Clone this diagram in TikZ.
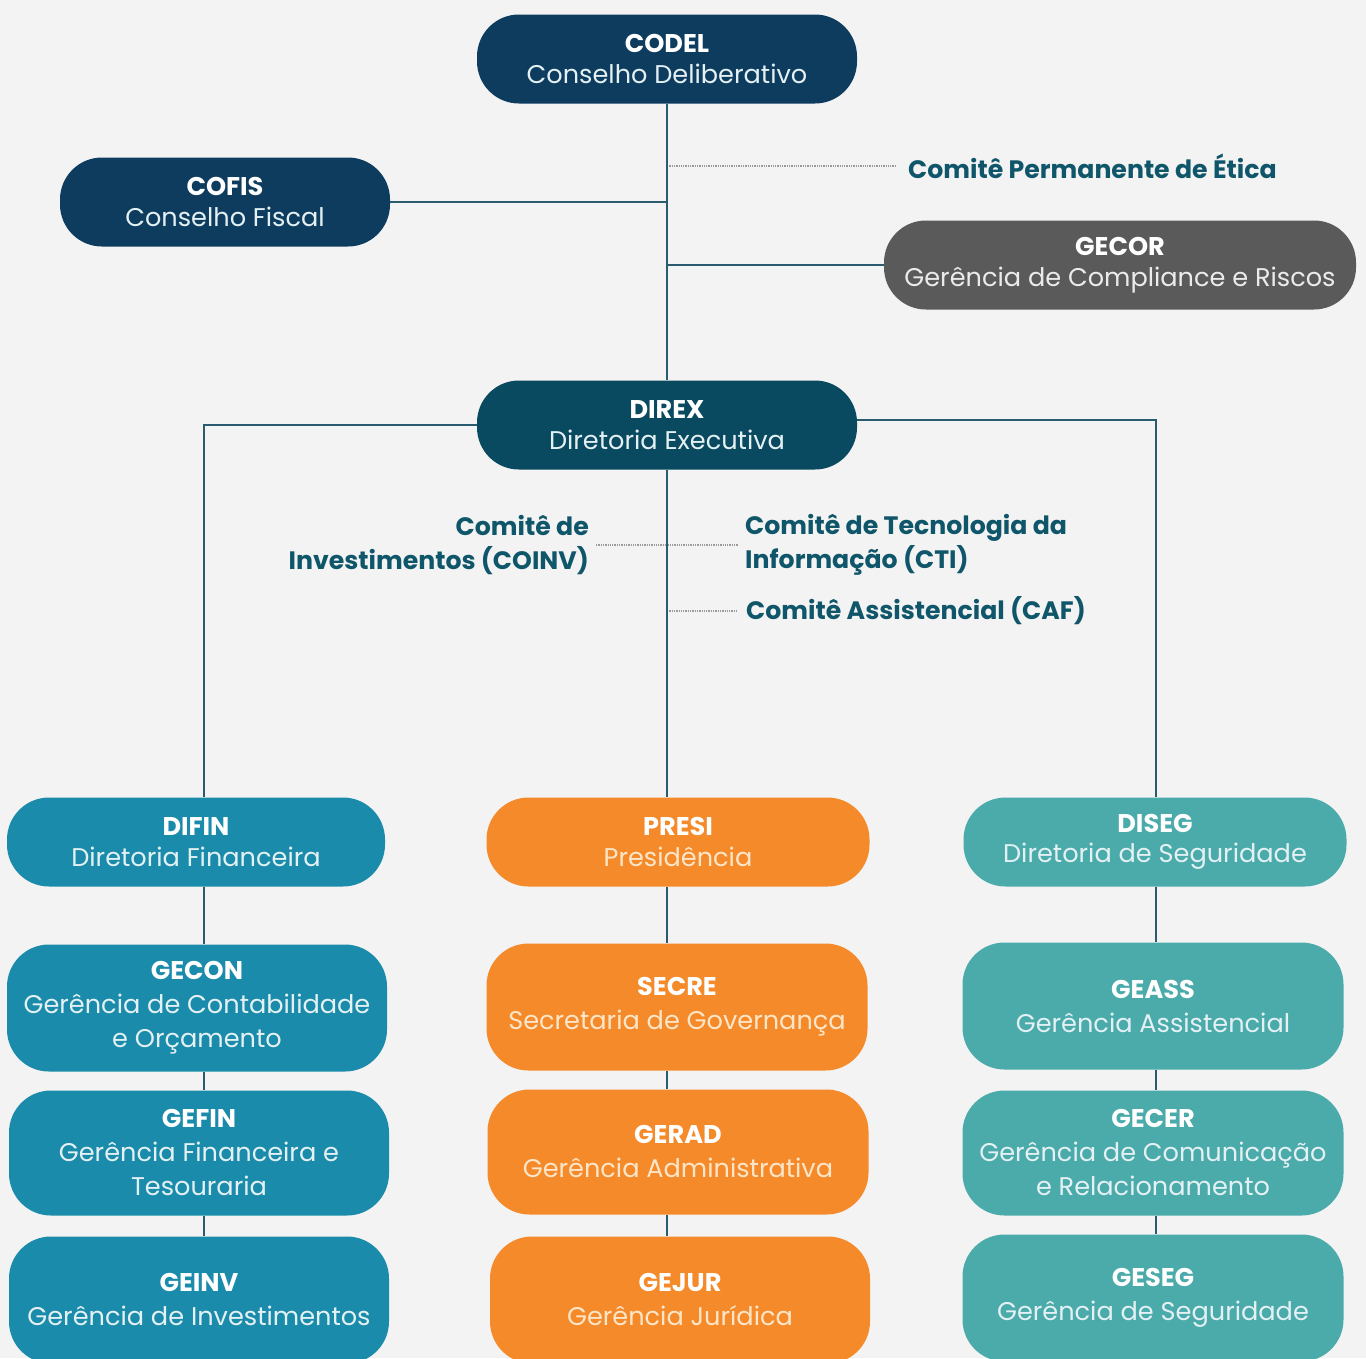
\documentclass[tikz,border=0pt]{standalone}
\usepackage{fontspec}
\setmainfont{Poppins}
\definecolor{bgc}{HTML}{F3F3F3}
\definecolor{navyc}{HTML}{0E3C5E}
\definecolor{direxc}{HTML}{0A4A60}
\definecolor{grayc}{HTML}{5A5A5A}
\definecolor{finc}{HTML}{1A8BAA}
\definecolor{orngc}{HTML}{F58A2B}
\definecolor{segc}{HTML}{4BABAA}
\definecolor{linec}{HTML}{2B5B6E}
\definecolor{comc}{HTML}{10566A}
\definecolor{dotc}{HTML}{9A9A9A}
\definecolor{subw}{HTML}{E4F1F4}
\definecolor{subo}{HTML}{FDE6C8}
\begin{document}
\begin{tikzpicture}[x=1pt,y=-1pt,
  org/.style={rounded corners=42pt, inner sep=0pt, align=center, text=white},
  short/.style={org, minimum height=89pt, font=\fontsize{25.6}{30.5}\selectfont},
  tall/.style={org, minimum height=127pt, font=\fontsize{25.6}{34}\selectfont},
  link/.style={draw=linec, line width=2pt},
  dotl/.style={draw=dotc, line width=1.3pt, densely dotted},
  comm/.style={text=comc, font=\fontsize{25.2}{34}\selectfont\bfseries, inner ysep=0pt}
]
\clip (0,0) rectangle (1366,1358);
\fill[bgc] (0,0) rectangle (1366,1358);
\useasboundingbox (0,0) rectangle (1366,1358);

% column guide coordinates
\coordinate (colL) at (204,0);
\coordinate (colM) at (667,0);
\coordinate (colR) at (1156,0);

% nodes
\node[short, fill=navyc, minimum width=380pt] (codel) at (667,59) {\textbf{CODEL}\\{\color{subw}Conselho Deliberativo}};
\node[short, fill=navyc, minimum width=330pt] (cofis) at (225,202) {\textbf{COFIS}\\{\color{subw}Conselho Fiscal}};
\node[short, fill=grayc, minimum width=472pt] (gecor) at (1120,265) {\textbf{GECOR}\\{\color{white!92!black}Gerência de Compliance e Riscos}};
\node[short, fill=direxc, minimum width=380pt] (direx) at (667,425) {\textbf{DIREX}\\{\color{subw}Diretoria Executiva}};

\node[short, fill=finc, minimum width=378pt] (difin) at (196,842) {\textbf{DIFIN}\\{\color{subw}Diretoria Financeira}};
\node[short, fill=orngc, minimum width=383pt] (presi) at (678,842) {\textbf{PRESI}\\{\color{subo}Presidência}};
\node[short, fill=segc, minimum width=383pt] (diseg) at (1155,842) {\textbf{DISEG}\\{\color{subw}Diretoria de Seguridade}};

\node[tall, fill=finc, minimum width=380pt] (gecon) at (197,1008) {\textbf{GECON}\\{\color{subw}Gerência de Contabilidade}\\{\color{subw}e Orçamento}};
\node[tall, fill=finc, minimum width=380pt, minimum height=125pt] (gefin) at (199,1153) {\textbf{GEFIN}\\{\color{subw}Gerência Financeira e}\\{\color{subw}Tesouraria}};
\node[tall, fill=finc, minimum width=380pt] (geinv) at (199,1300) {\textbf{GEINV}\\{\color{subw}Gerência de Investimentos}};

\node[tall, fill=orngc, minimum width=381pt] (secre) at (677,1007) {\textbf{SECRE}\\{\color{subo}Secretaria de Governança}};
\node[tall, fill=orngc, minimum width=381pt, minimum height=125pt] (gerad) at (678,1152) {\textbf{GERAD}\\{\color{subo}Gerência Administrativa}};
\node[tall, fill=orngc, minimum width=380pt] (gejur) at (680,1300) {\textbf{GEJUR}\\{\color{subo}Gerência Jurídica}};

\node[tall, fill=segc, minimum width=381pt] (geass) at (1153,1006) {\textbf{GEASS}\\{\color{subw}Gerência Assistencial}};
\node[tall, fill=segc, minimum width=381pt, minimum height=125pt] (gecer) at (1153,1153) {\textbf{GECER}\\{\color{subw}Gerência de Comunicação}\\{\color{subw}e Relacionamento}};
\node[tall, fill=segc, minimum width=381pt] (geseg) at (1153,1298) {\textbf{GESEG}\\{\color{subw}Gerência de Seguridade}};

% committees
\node[comm, anchor=west, inner xsep=13pt] (etica) at (895,166) {Comitê Permanente de Ética};
\node[comm, anchor=east, align=right, inner xsep=7pt] (coinv) at (596,545) {Comitê de\\Investimentos (COINV)};
\node[comm, anchor=west, align=left, inner xsep=7pt] (cti) at (738,545) {Comitê de Tecnologia da\\Informação (CTI)};
\node[comm, anchor=west, inner xsep=8pt] (caf) at (738,611) {Comitê Assistencial (CAF)};

% dotted committee links
\draw[dotl] (etica.west -| colM) -- (etica.west);
\draw[dotl] (coinv.east) -- (cti.west);
\draw[dotl] (caf.west -| colM) -- (caf.west);

% solid connectors
\draw[link] (codel.south) -- (direx.north);
\draw[link] (cofis.east) -- (cofis.east -| colM);
\draw[link] (gecor.west) -- (gecor.west -| colM);
\draw[link] (direx.west) -| (difin.north -| colL);
\draw[link] ([yshift=5pt]direx.east) -| (diseg.north -| colR);
\draw[link] (direx.south) -- (presi.north -| colM);
\draw[link] (difin.south -| colL) -- (gecon.north -| colL);
\draw[link] (gecon.south -| colL) -- (gefin.north -| colL);
\draw[link] (gefin.south -| colL) -- (geinv.north -| colL);
\draw[link] (presi.south -| colM) -- (secre.north -| colM);
\draw[link] (secre.south -| colM) -- (gerad.north -| colM);
\draw[link] (gerad.south -| colM) -- (gejur.north -| colM);
\draw[link] (diseg.south -| colR) -- (geass.north -| colR);
\draw[link] (geass.south -| colR) -- (gecer.north -| colR);
\draw[link] (gecer.south -| colR) -- (geseg.north -| colR);
\end{tikzpicture}
\end{document}
